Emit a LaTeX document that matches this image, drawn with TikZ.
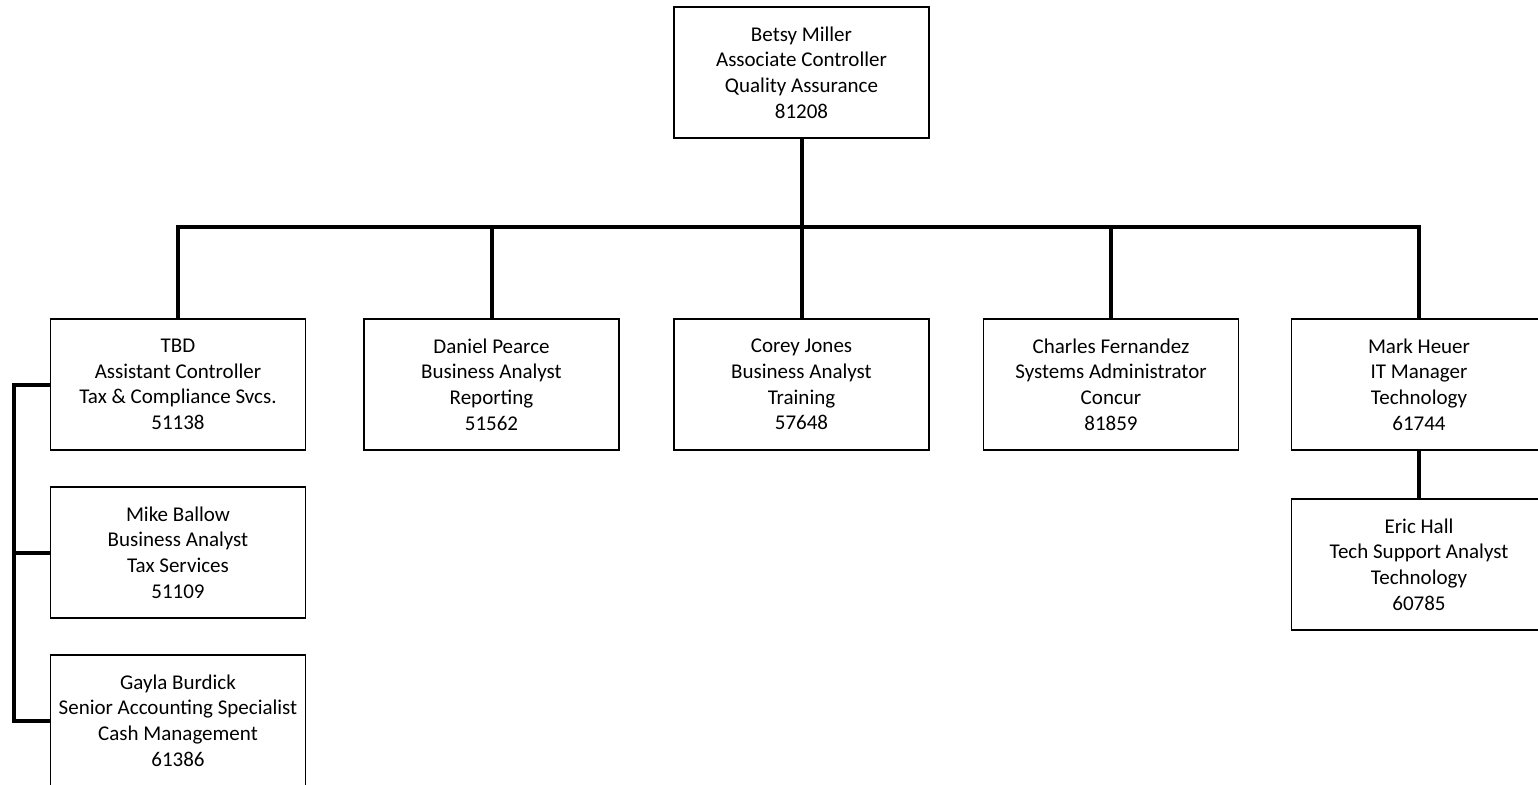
\documentclass[tikz,border=0pt]{standalone}
\usepackage{fontspec}
\setmainfont{Carlito}
\usepackage{tikz}
\usetikzlibrary{calc}

\begin{document}
\begin{tikzpicture}[x=1pt, y=-1pt,
    person/.style={draw, line width=1.8pt, minimum width=255pt, minimum height=131pt,
        inner sep=0pt, align=center, font=\fontsize{21}{25.6}\selectfont},
    link/.style={line width=4pt}]
    % Fix the page to the size of the chart
    \useasboundingbox (0,0) rectangle (1538,784);

    % Draw the head of the unit
    \node[person] (betsy) at (801.5, 72.5) {Betsy Miller\\Associate Controller\\Quality Assurance\\81208};

    % Draw the people reporting to her
    \node[person] (tbd) at (178, 384.5) {TBD\\Assistant Controller\\Tax \& Compliance Svcs.\\51138};
    \node[person] (daniel) at (491.5, 384.5) {Daniel Pearce\\Business Analyst\\Reporting\\51562};
    \node[person] (corey) at (801.5, 384.5) {Corey Jones\\Business Analyst\\Training\\57648};
    \node[person] (charles) at (1111, 384.5) {Charles Fernandez\\Systems Administrator\\Concur\\81859};
    \node[person] (mark) at (1419, 384.5) {Mark Heuer\\IT Manager\\Technology\\61744};

    % Draw the third level
    \node[person] (mike) at (178, 552.5) {Mike Ballow\\Business Analyst\\Tax Services\\51109};
    \node[person] (gayla) at (178, 720.5) {Gayla Burdick\\Senior Accounting Specialist\\Cash Management\\61386};
    \node[person] (eric) at (1419, 564.5) {Eric Hall\\Tech Support Analyst\\Technology\\60785};

    % The bar and the trunk that the connectors hang from
    \coordinate (bar) at (0, 227);
    \coordinate (trunk) at (14, 0);

    % Finally draw the connectors
    \draw[link] (betsy.south) -- (corey.north);
    \draw[link] (tbd.north) |- (mark.north |- bar) -- (mark.north);
    \foreach \n in {daniel, charles}
    {
        \draw[link] (\n.north) -- (\n.north |- bar);
    }
    \draw[link] (tbd.west) -| (trunk |- gayla.west) -- (gayla.west);
    \draw[link] (mike.west) -- (trunk |- mike.west);
    \draw[link] (mark.south) -- (eric.north);
\end{tikzpicture}
\end{document}
